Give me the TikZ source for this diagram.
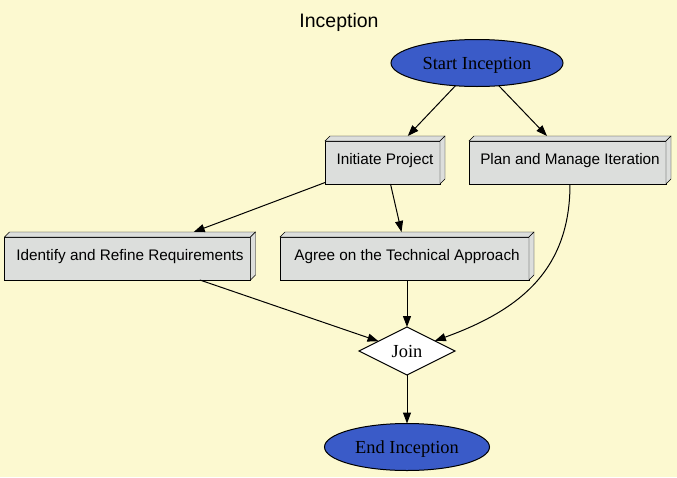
\documentclass[tikz,border=0pt]{standalone}
\usepackage{fontspec}
\setmainfont{Liberation Serif}
\newfontfamily\arialf{Liberation Sans}
\usetikzlibrary{shapes.geometric,arrows.meta,calc,backgrounds}
\definecolor{bgc}{HTML}{FCF9D0}
\definecolor{boxc}{HTML}{DCDEDC}
\definecolor{bluec}{HTML}{3A5BC8}
\begin{document}
\begin{tikzpicture}[x=1pt,y=-1pt,line width=1pt,
  every node/.style={inner sep=0pt,outer sep=0pt},
  box3d/.style={rectangle,minimum height=48pt,text height=11pt,text depth=3pt,
    font=\arialf\fontsize{15.3}{18}\selectfont},
  term/.style={ellipse,draw,fill=bluec,minimum height=47pt,text height=12.5pt,text depth=0pt,
    font=\fontsize{18.4}{22}\selectfont},
  joinnode/.style={diamond,draw,fill=white,minimum width=96pt,minimum height=48pt,
    text height=12.5pt,text depth=0pt,font=\fontsize{18.4}{22}\selectfont},
  flow/.style={-{Triangle[length=11pt,width=8pt]}},
  face/.style={draw,fill=boxc}]
\useasboundingbox (0,0) rectangle (677,477);
\node[text height=14pt,text depth=0pt,font=\arialf\fontsize{19.5}{23}\selectfont] (title) at (339,20) {Inception};
\node[term,minimum width=172pt] (st) at (477,63) {Start Inception};
\node[box3d,minimum width=120pt] (ip) at (385,160) {Initiate Project};
\node[box3d,minimum width=202pt] (pm) at (570,160) {Plan and Manage Iteration};
\node[box3d,minimum width=251pt] (ir) at (130,256) {Identify and Refine Requirements};
\node[box3d,minimum width=254pt] (ag) at (407,256) {Agree on the Technical Approach};
\node[joinnode] (jn) at (407,351) {Join};
\node[term,minimum width=165pt] (en) at (407,447) {End Inception};
\begin{scope}[on background layer]
  \fill[bgc] (0,0) rectangle (677,477);
  \foreach \n in {ip,pm,ir,ag}{
    \path[face] (\n.south west) rectangle ($(\n.north east)+(-5,5)$);
    \path[face] ($(\n.north west)+(0,5)$) -- ($(\n.north west)+(5,0)$) -- (\n.north east) -- ($(\n.north east)+(-5,5)$) -- cycle;
    \path[face] ($(\n.north east)+(-5,5)$) -- (\n.north east) -- ($(\n.south east)+(0,-5)$) -- ($(\n.south east)+(-5,0)$) -- cycle;
  }
\end{scope}
\draw[flow] (st) -- (ip);
\draw[flow] (st) -- (pm);
\draw[flow] (ip) -- (ir);
\draw[flow] (ip) -- (ag);
\draw[flow] (ir) -- (jn);
\draw[flow] (ag) -- (jn);
\draw[flow] (pm.south) .. controls (570,270) and (520,310) .. (jn);
\draw[flow] (jn) -- (en);
\end{tikzpicture}
\end{document}
